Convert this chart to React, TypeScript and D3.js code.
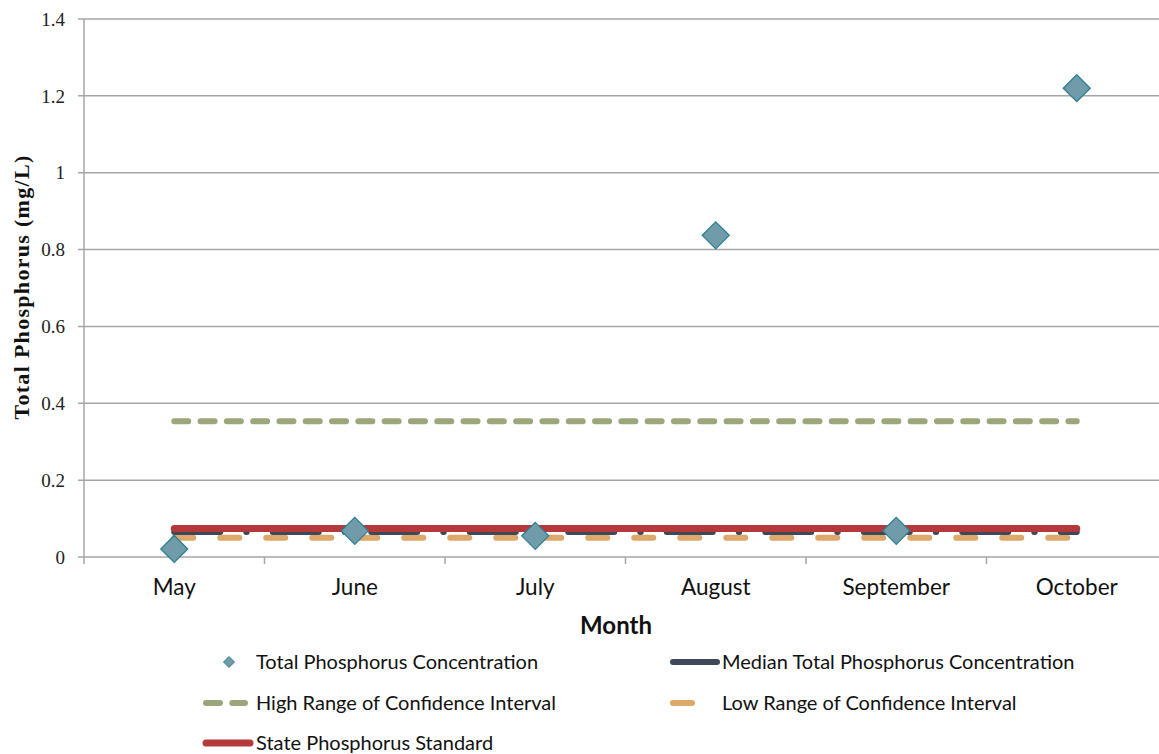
import React, { useEffect, useRef } from 'react';
import * as d3 from 'd3';

const months = ['May', 'June', 'July', 'August', 'September', 'October'];
const totalP = [0.021, 0.068, 0.055, 0.837, 0.068, 1.22];
const medianP = [0.065, 0.065, 0.065, 0.065, 0.065, 0.065];
const highCI = [0.353, 0.353, 0.353, 0.353, 0.353, 0.353];
const lowCI = [0.05, 0.05, 0.05, 0.05, 0.05, 0.05];
const stateStd = [0.074, 0.074, 0.074, 0.074, 0.074, 0.074];
const yTicks = [0, 0.2, 0.4, 0.6, 0.8, 1, 1.2, 1.4];

const serif = '"Liberation Serif", "DejaVu Serif", serif';
const sans = 'Lato, "Open Sans", sans-serif';

const App = () => {
  const svgRef = useRef<SVGSVGElement>(null);

  useEffect(() => {
    const width = 1159;
    const left = 84;
    const right = 1167; // plot runs off the right edge
    const top = 19;
    const bottom = 557;

    const svg = d3.select(svgRef.current);
    svg.selectAll('*').remove();

    const x = d3.scaleBand().domain(months).range([left, right]).padding(0);
    const cx = (m: string) => (x(m) as number) + x.bandwidth() / 2;
    const y = d3.scaleLinear().domain([0, 1.4]).range([bottom, top]);

    // gridlines
    svg.append('g')
      .selectAll('line')
      .data(yTicks)
      .join('line')
      .attr('x1', left - 6)
      .attr('x2', width)
      .attr('y1', d => y(d))
      .attr('y2', d => y(d))
      .attr('stroke', '#a6a6a6')
      .attr('stroke-width', 1.5);

    // y axis line
    svg.append('line')
      .attr('x1', left).attr('x2', left)
      .attr('y1', top).attr('y2', bottom)
      .attr('stroke', '#a6a6a6').attr('stroke-width', 1.5);

    // x tick marks
    const bounds = months.map(m => x(m) as number).concat([right]);
    svg.append('g')
      .selectAll('line')
      .data(bounds)
      .join('line')
      .attr('x1', d => d).attr('x2', d => d)
      .attr('y1', bottom).attr('y2', bottom + 7)
      .attr('stroke', '#a6a6a6').attr('stroke-width', 1.5);

    // y tick labels
    svg.append('g')
      .selectAll('text')
      .data(yTicks)
      .join('text')
      .attr('x', 65)
      .attr('y', d => y(d))
      .attr('dy', '0.35em')
      .attr('text-anchor', 'end')
      .style('font', `19px ${serif}`)
      .attr('fill', '#222')
      .text(d => d3.format('')(Math.round(d * 10) / 10));

    // x tick labels
    svg.append('g')
      .selectAll('text')
      .data(months)
      .join('text')
      .attr('x', d => cx(d))
      .attr('y', 595)
      .attr('text-anchor', 'middle')
      .style('font', `22.5px ${sans}`)
      .attr('fill', '#111')
      .text(d => d);

    // axis titles
    svg.append('text')
      .attr('x', 616).attr('y', 634)
      .attr('text-anchor', 'middle')
      .style('font', `bold 24px ${sans}`)
      .attr('fill', '#111')
      .text('Month');

    svg.append('text')
      .attr('transform', 'translate(29,287) rotate(-90)')
      .attr('text-anchor', 'middle')
      .style('font', `bold 22px ${serif}`)
      .style('letter-spacing', '1.3px')
      .attr('fill', '#111')
      .text('Total Phosphorus (mg/L)');

    const line = d3.line<number>()
      .x((_, i) => cx(months[i]))
      .y(d => y(d));

    const drawLine = (vals: number[], color: string, w: number, dash: string | null) => {
      svg.append('path')
        .datum(vals)
        .attr('d', line)
        .attr('fill', 'none')
        .attr('stroke', color)
        .attr('stroke-width', w)
        .attr('stroke-linecap', 'round')
        .attr('stroke-dasharray', dash);
    };

    drawLine(highCI, '#9ba67a', 6, '14,12.3');
    drawLine(lowCI, '#dfa86b', 6, '19,27');
    drawLine(medianP, '#3e4859', 6, '46,26,0.5,26');
    drawLine(stateStd, '#b5383b', 7, null);

    // diamonds
    const diamond = (r: number) => `M0,${-r}L${r},0L0,${r}L${-r},0Z`;
    svg.append('g')
      .selectAll('path')
      .data(totalP)
      .join('path')
      .attr('transform', (d, i) => `translate(${cx(months[i])},${y(d)})`)
      .attr('d', diamond(13.5))
      .attr('fill', '#709ba9')
      .attr('stroke', '#2f7e92')
      .attr('stroke-width', 1.3);

    // legend
    const leg = svg.append('g').style('font', `20px ${sans}`).attr('fill', '#111');
    const row1 = 662, row2 = 703, row3 = 743;

    leg.append('path')
      .attr('transform', `translate(229,${row1})`)
      .attr('d', diamond(5.5))
      .attr('fill', '#709ba9')
      .attr('stroke', '#2f7e92');
    leg.append('text').attr('x', 256).attr('y', row1).attr('dy', '0.35em').text('Total Phosphorus Concentration');

    const legLine = (x1: number, x2: number, yy: number, color: string, w: number, dash: string | null) => {
      leg.append('line')
        .attr('x1', x1).attr('x2', x2).attr('y1', yy).attr('y2', yy)
        .attr('stroke', color).attr('stroke-width', w)
        .attr('stroke-linecap', 'round')
        .attr('stroke-dasharray', dash);
    };

    legLine(673, 717, row1, '#3e4859', 6, null);
    leg.append('text').attr('x', 722).attr('y', row1).attr('dy', '0.35em').text('Median Total Phosphorus Concentration');

    legLine(206, 245, row2, '#9ba67a', 6, '14,12.3');
    leg.append('text').attr('x', 256).attr('y', row2).attr('dy', '0.35em').text('High Range of Confidence Interval');

    legLine(673, 692, row2, '#dfa86b', 6, null);
    leg.append('text').attr('x', 722).attr('y', row2).attr('dy', '0.35em').text('Low Range of Confidence Interval');

    legLine(206, 250, row3, '#b5383b', 7, null);
    leg.append('text').attr('x', 256).attr('y', row3).attr('dy', '0.35em').text('State Phosphorus Standard');
  }, []);

  return (
    <div style={{ position: 'absolute', left: 0, top: 0 }}>
      <svg ref={svgRef} width={1159} height={754} style={{ display: 'block', background: '#fff' }} />
    </div>
  );
};

export default App;
